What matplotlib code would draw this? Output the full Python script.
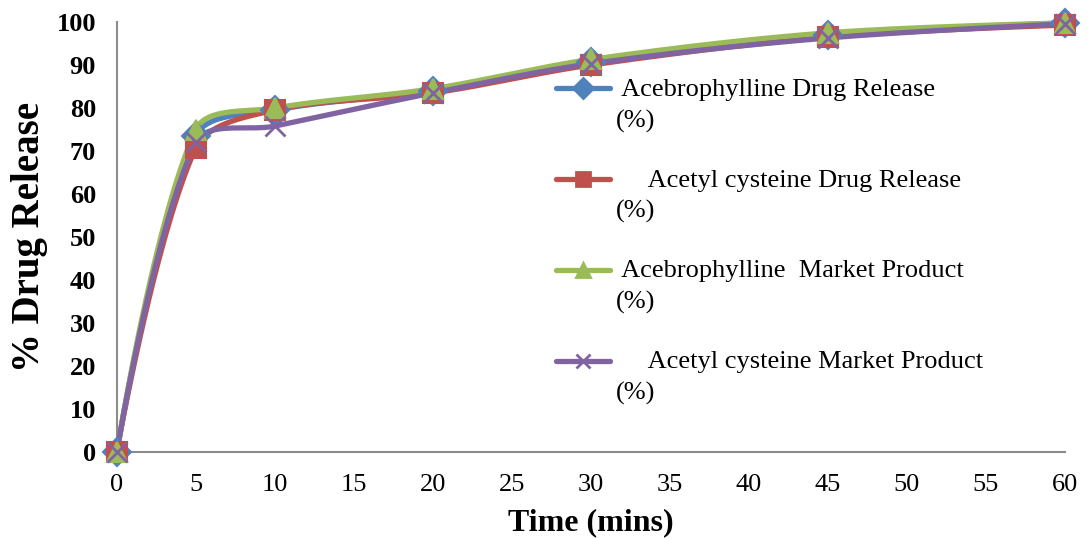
import numpy as np
import matplotlib
matplotlib.use("Agg")
import matplotlib.pyplot as plt
from matplotlib.legend_handler import HandlerLine2D

# Dissolution time points (minutes)
time_min = [0, 5, 10, 20, 30, 45, 60]

# Cumulative % drug release
acebrophylline_release = [0, 73.5, 79.5, 84.0, 90.8, 97.0, 99.8]
acetylcysteine_release = [0, 70.7, 79.5, 83.5, 90.0, 96.5, 99.3]
acebrophylline_market = [0, 75.0, 80.0, 84.5, 91.3, 97.5, 99.8]
acetylcysteine_market = [0, 72.0, 75.8, 83.5, 90.3, 96.3, 99.6]

labels = [
    " Acebrophylline Drug Release\n(%)",
    "     Acetyl cysteine Drug Release\n(%)",
    " Acebrophylline  Market Product\n(%)",
    "     Acetyl cysteine Market Product\n(%)",
]
colors = ["#4F81BD", "#C0504D", "#9BBB59", "#8064A2"]
markers = ["D", "s", "^", "x"]

x_ticks = list(range(0, 65, 5))
y_ticks = list(range(0, 110, 10))

plt.rcParams["font.family"] = ["Liberation Serif", "DejaVu Serif"]


def smooth_curve(xs, ys, sx, sy, n=40):
    """Smoothed line through the points: cubic Bezier segments whose control
    points follow the neighbouring points, with the tangent length weighted
    by the adjacent chord lengths (limits overshoot on uneven spacing)."""
    pts = np.column_stack([np.asarray(xs, float) * sx,
                           np.asarray(ys, float) * sy])
    m = len(pts)
    out = [pts[0]]
    for i in range(m - 1):
        p0 = pts[i - 1] if i > 0 else pts[i]
        p1 = pts[i]
        p2 = pts[i + 1]
        p3 = pts[i + 2] if i + 2 < m else pts[i + 1]
        seg_len = np.linalg.norm(p2 - p1)
        l0 = np.linalg.norm(p1 - p0)
        l3 = np.linalg.norm(p3 - p2)
        w1 = seg_len / (seg_len + l0) / 3.0 if l0 > 0 else 0.0
        w2 = seg_len / (seg_len + l3) / 3.0 if l3 > 0 else 0.0
        c1 = p1 + (p2 - p0) * w1
        c2 = p2 - (p3 - p1) * w2
        t = np.linspace(0, 1, n)[1:, None]
        seg = ((1 - t) ** 3) * p1 + 3 * ((1 - t) ** 2) * t * c1 \
            + 3 * (1 - t) * t ** 2 * c2 + t ** 3 * p2
        out.extend(seg)
    out = np.array(out)
    return out[:, 0] / sx, out[:, 1] / sy


class FirstLineHandler(HandlerLine2D):
    """Legend handle raised to sit beside the first line of a two-line label."""

    def __init__(self, shift, **kw):
        super().__init__(**kw)
        self.shift = shift

    def create_artists(self, legend, orig_handle, xdescent, ydescent,
                       width, height, fontsize, trans):
        artists = super().create_artists(legend, orig_handle, xdescent,
                                         ydescent, width, height, fontsize,
                                         trans)
        for a in artists:
            a.set_ydata(np.asarray(a.get_ydata(), float) + self.shift)
        return artists


fig = plt.figure(figsize=(10.92, 5.38), dpi=100)
ax = fig.add_axes([0.107, 0.160, 0.868, 0.799])

series = [acebrophylline_release, acetylcysteine_release,
          acebrophylline_market, acetylcysteine_market]

sx, sy = 15.8, 4.3
handles = []
for vals, lab, col, mk in zip(series, labels, colors, markers):
    cx, cy = smooth_curve(time_min, vals, sx, sy)
    ax.plot(cx, cy, color=col, lw=3.8, solid_capstyle="round",
            clip_on=False, zorder=3)
    ms = 14 if mk != "x" else 15
    mew = 1.5 if mk != "x" else 2
    ax.plot(time_min, vals, linestyle="none", marker=mk, color=col,
            markersize=ms, markeredgewidth=mew, clip_on=False, zorder=4)
    h, = ax.plot([], [], color=col, lw=3.8, marker=mk, markersize=10,
                 markeredgewidth=2, solid_capstyle="round", label=lab)
    handles.append(h)

ax.set_xlim(0, 60)
ax.set_ylim(0, 100)
ax.set_xticks(x_ticks)
ax.set_yticks(y_ticks)
ax.tick_params(axis="both", length=0)
ax.tick_params(axis="x", labelsize=19, pad=16)
ax.tick_params(axis="y", labelsize=19, pad=15)
for t in ax.get_yticklabels():
    t.set_fontweight("bold")

for side in ("top", "right"):
    ax.spines[side].set_visible(False)
for side in ("left", "bottom"):
    ax.spines[side].set_color("#8C8C8C")
    ax.spines[side].set_linewidth(1.5)

ax.set_xlabel("Time (mins)", fontsize=23, fontweight="bold", labelpad=9)
ax.set_ylabel("% Drug Release", fontsize=28, fontweight="bold", labelpad=6)

handler = FirstLineHandler(shift=12.0)
leg = ax.legend(handles=handles, loc="upper left",
                bbox_to_anchor=(0.449, 0.899),
                frameon=False, fontsize=19, handlelength=2.05,
                handletextpad=0.22, labelspacing=1.4, borderpad=0,
                handler_map={h: handler for h in handles})
for t in leg.get_texts():
    t.set_linespacing(1.5)

fig.savefig("out.png", dpi=100)
